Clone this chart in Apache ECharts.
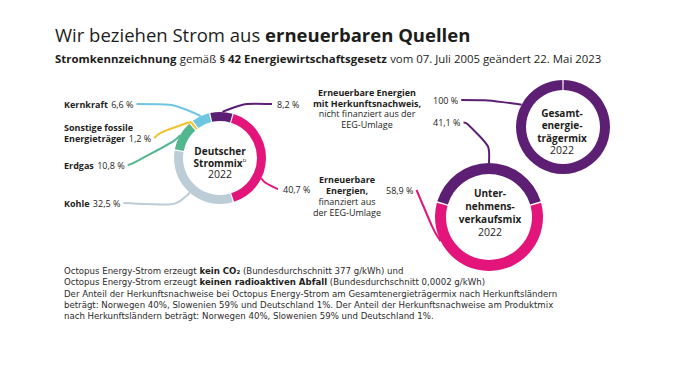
<!DOCTYPE html>
<html><head><meta charset="utf-8">
<script src="https://cdn.jsdelivr.net/npm/echarts@6/dist/echarts.min.js"></script>
<style>html,body{margin:0;padding:0;background:#fff}#c{width:684px;height:383px}</style>
</head><body><div id="c"></div>
<script>
// ---------- data ----------
const mixCategories = ["Erneuerbare Energien mit Herkunftsnachweis", "Erneuerbare Energien, finanziert aus der EEG-Umlage", "Kohle", "Erdgas", "Sonstige fossile Energieträger", "Kernkraft"];
const mixLabels = ["", "", "Kohle", "Erdgas", "Sonstige fossile\nEnergieträger", "Kernkraft"];
const mixValues = [8.2, 40.7, 32.5, 10.8, 1.2, 6.6];
const gesamtCategories = ["Erneuerbare Energien mit Herkunftsnachweis"];
const gesamtValues = [100];
const verkaufCategories = ["Erneuerbare Energien mit Herkunftsnachweis", "Erneuerbare Energien, finanziert aus der EEG-Umlage"];
const verkaufValues = [41.1, 58.9];
const centerTitles = [["{b|Deutscher}", "{b|Strommix}{s|ᴰ}", "{r|2022}"], ["{b|Gesamt-}", "{b|energie-}", "{b|trägermix}", "{r|2022}"], ["{b|Unter-}", "{b|nehmens-}", "{b|verkaufsmix}", "{r|2022}"]];
const noteHerkunft = ["{b|Erneuerbare Energien}", "{b|mit Herkunftsnachweis,}", "{r|nicht finanziert aus der}", "{r|EEG-Umlage}"];
const noteEEG = ["{b|Erneuerbare}", "{b|Energien,}", "{r|finanziert aus}", "{r|der EEG-Umlage}"];
const footerLines = [
  "Octopus Energy-Strom erzeugt {b|kein CO₂} (Bundesdurchschnitt 377 g/kWh) und",
  "Octopus Energy-Strom erzeugt {b|keinen radioaktiven Abfall} (Bundesdurchschnitt 0,0002 g/kWh)",
  "Der Anteil der Herkunftsnachweise bei Octopus Energy-Strom am Gesamtenergieträgermix nach Herkunftsländern",
  "beträgt: Norwegen 40%, Slowenien 59% und Deutschland 1%. Der Anteil der Herkunftsnachweise am Produktmix",
  "nach Herkunftsländern beträgt: Norwegen 40%, Slowenien 59% und Deutschland 1%."
];

// ---------- style / layout ----------
const FONT = "'Open Sans', sans-serif";
const FOOT_FONT = "'DejaVu Sans', sans-serif";
const TXT = '#1d1d1b';
const PURPLE = '#5c1f74', PINK = '#e3157b';
const mixColors = [PURPLE, PINK, '#bccdd8', '#52b68f', '#f2c331', '#6fc6e0'];
const verkaufColors = [PURPLE, PINK];

const geom = [
  {center: [220, 158], radius: [37, 46], start: 103, span: 360, values: mixValues},
  {center: [563, 127], radius: [37, 47], start: 89.2, span: 358.4, values: gesamtValues},
  {center: [489, 217], radius: [43, 54], start: 90 + 180 * verkaufValues[0] / 100, span: 360, values: verkaufValues}
];
// label placement and leader line elbows
const labelPlace = [
  [
    {x: 277, y: 104, side: 'right', elbow: [233, 103], frac: 0.55},
    {x: 283, y: 189, side: 'right', elbow: [269, 189], frac: 0.68},
    {x: 64, y: 203, side: 'left', elbow: [187, 206], frac: 0.5},
    {x: 64, y: 165, side: 'left', elbow: [158, 161], frac: 0.5},
    {x: 64, y: 133, side: 'left', dy: 5, elbow: [172, 121], frac: 0.5},
    {x: 64, y: 104, side: 'left', elbow: [188, 104], frac: 0.5}
  ],
  [ {x: 433, y: 100, side: 'left', elbow: [503, 100], frac: 0.83} ],
  [
    {x: 433, y: 122.5, side: 'left', elbow: [491, 122], frac: 0.5},
    {x: 386, y: 190, side: 'left', elbow: [436, 236], frac: 0.8}
  ]
];

function pct(v) { return (Number.isInteger(v) ? String(v) : v.toFixed(1).replace('.', ',')) + ' %'; }

function anchor(si, di, frac) {
  const g = geom[si];
  const total = g.values.reduce((a, b) => a + b, 0);
  let cum = 0;
  for (let i = 0; i < di; i++) cum += g.values[i];
  const theta = (g.start - g.span * (cum + frac * g.values[di]) / total) * Math.PI / 180;
  const R = g.radius[1];
  return [g.center[0] + R * Math.cos(theta), g.center[1] - R * Math.sin(theta)];
}

function layoutFor(si) {
  return function (params) {
    const p = labelPlace[si][params.dataIndex];
    const w = params.labelRect.width;
    const end = p.side === 'left' ? [p.x + w + 3, p.y + (p.dy || 0)] : [p.x - 5, p.y];
    return {
      x: p.x, y: p.y, align: 'left', verticalAlign: 'middle',
      labelLinePoints: [anchor(si, params.dataIndex, p.frac), p.elbow, end]
    };
  };
}

const labelRich = {
  b: {fontFamily: FONT, fontSize: 9, fontWeight: 'bold', color: TXT, lineHeight: 11},
  v: {fontFamily: FONT, fontSize: 9, color: TXT, lineHeight: 11}
};

function mixFormatter(p) {
  const val = '{v|' + pct(p.value) + '}';
  const lab = mixLabels[p.dataIndex];
  if (!lab) return val;
  const lines = lab.split('\n').map(s => '{b|' + s + '}');
  lines[lines.length - 1] += ' ' + val;
  return lines.join('\n');
}

function pieSeries(si, names, colors, formatter) {
  const g = geom[si];
  return {
    type: 'pie', center: g.center, radius: g.radius, startAngle: g.start, endAngle: g.start - g.span,
    clockwise: true,
    padAngle: si === 1 ? 0 : 1.6, avoidLabelOverlap: false, silent: true, animation: false,
    data: g.values.map((v, i) => ({
      name: names[i], value: v,
      itemStyle: {color: colors[i]},
      labelLine: {lineStyle: {color: colors[i]}}
    })),
    label: {show: true, position: 'outside', formatter: formatter, rich: labelRich, color: TXT},
    labelLine: {show: true, smooth: 0.9, lineStyle: {width: 2}},
    labelLayout: layoutFor(si),
    emphasis: {disabled: true}
  };
}

function centerText(lines, x, y, lh) {
  return {
    type: 'text', x: x, y: y, silent: true,
    style: {
      text: lines.join('\n'), align: 'center', verticalAlign: 'middle',
      fontFamily: FONT, fill: TXT,
      rich: {
        b: {fontFamily: FONT, fontSize: 10, fontWeight: 'bold', fill: TXT, lineHeight: lh},
        r: {fontFamily: FONT, fontSize: 10.5, fill: TXT, lineHeight: lh},
        s: {fontFamily: 'DejaVu Sans', fontSize: 8, fill: TXT, lineHeight: lh}
      }
    }
  };
}

function noteText(lines, x, y, lh) {
  return {
    type: 'text', x: x, y: y, silent: true,
    style: {
      text: lines.join('\n'), align: 'center', verticalAlign: 'middle', fill: TXT,
      rich: {
        b: {fontFamily: FONT, fontSize: 9, fontWeight: 'bold', fill: TXT, lineHeight: lh},
        r: {fontFamily: FONT, fontSize: 9, fill: TXT, lineHeight: lh}
      }
    }
  };
}

const chart = echarts.init(document.getElementById('c'), null, {renderer: 'svg'});
chart.setOption({
  animation: false,
  backgroundColor: '#fff',
  series: [
    pieSeries(0, mixCategories, mixColors, mixFormatter),
    pieSeries(1, gesamtCategories, [PURPLE], p => '{v|' + pct(p.value) + '}'),
    pieSeries(2, verkaufCategories, verkaufColors, p => '{v|' + pct(p.value) + '}')
  ],
  graphic: [
    {
      type: 'text', x: 55, y: 34, silent: true,
      style: {
        text: '{r|Wir beziehen Strom aus }{b|erneuerbaren Quellen}', verticalAlign: 'middle', fill: TXT,
        rich: {
          r: {fontFamily: FONT, fontSize: 18.5, fill: TXT},
          b: {fontFamily: FONT, fontSize: 18.5, fontWeight: 'bold', fill: TXT}
        }
      }
    },
    {
      type: 'text', x: 55, y: 58, silent: true,
      style: {
        text: '{b|Stromkennzeichnung} {r|gemäß} {b|§ 42 Energiewirtschaftsgesetz} {r|vom 07. Juli 2005 geändert 22. Mai 2023}',
        verticalAlign: 'middle', fill: TXT,
        rich: {
          r: {fontFamily: FONT, fontSize: 11.4, fill: TXT},
          b: {fontFamily: FONT, fontSize: 11.4, fontWeight: 'bold', fill: TXT}
        }
      }
    },
    centerText(centerTitles[0], 220, 162.5, 11.5),
    centerText(centerTitles[1], 562, 131.5, 12.3),
    centerText(centerTitles[2], 490, 212.5, 13),
    noteText(noteHerkunft, 367, 108.5, 10.5),
    noteText(noteEEG, 347, 195.5, 11),
    {
      type: 'text', x: 64, y: 293.5, silent: true,
      style: {
        text: footerLines.join('\n'), verticalAlign: 'middle', fill: '#2b2b2b',
        fontFamily: FOOT_FONT, fontSize: 8.6, lineHeight: 11.3,
        rich: {
          b: {fontFamily: FOOT_FONT, fontSize: 8.6, fontWeight: 'bold', fill: TXT, lineHeight: 11.3}
        }
      }
    }
  ]
});
</script>
</body></html>
